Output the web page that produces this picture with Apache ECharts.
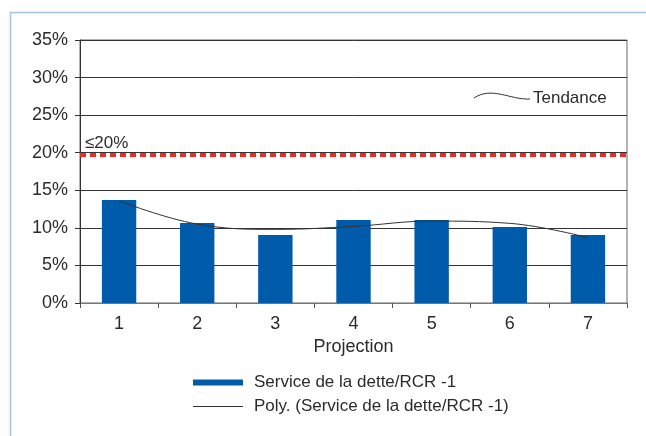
<!DOCTYPE html>
<html>
<head>
<meta charset="utf-8">
<script src="https://cdn.jsdelivr.net/npm/echarts@6/dist/echarts.min.js"></script>
<style>
  html, body { margin: 0; padding: 0; background: #fff; }
  #chart { width: 646px; height: 436px; }
</style>
</head>
<body>
<div id="chart"></div>
<script>
// Projection years and the debt-service ratio for each
const categories = ['1', '2', '3', '4', '5', '6', '7'];
const serviceDette = [13.7, 10.65, 9.05, 11.05, 11.05, 10.1, 9.05];
// Polynomial trend of the same series
const tendance = [13.6, 10.5, 9.8, 10.2, 10.9, 10.6, 8.7];
// Ceiling (≤20%)
const plafond = 19.75;
const yTicks = [0, 5, 10, 15, 20, 25, 30, 35];

const serieBarres = 'Service de la dette/RCR -1';
const serieTendance = 'Poly. (Service de la dette/RCR -1)';
const font = 'Liberation Sans, Arial, Helvetica, sans-serif';
const txt = '#2b2b2b';

const chart = echarts.init(document.getElementById('chart'), null, { renderer: 'canvas' });

chart.setOption({
  animation: false,
  backgroundColor: '#fff',
  textStyle: { fontFamily: font },
  grid: {
    left: 80, top: 40, right: 19, bottom: 133,
    show: true, borderColor: '#666', borderWidth: 1
  },
  legend: [
    {
      data: [serieBarres],
      orient: 'vertical',
      left: 193, top: 374,
      padding: 0,
      icon: 'rect',
      itemWidth: 50, itemHeight: 6,
      textStyle: { fontFamily: font, fontSize: 17, color: txt, padding: [0, 0, 0, 6] }
    },
    {
      data: [serieTendance],
      orient: 'vertical',
      left: 193, top: 398,
      padding: 0,
      icon: 'rect',
      itemWidth: 50, itemHeight: 1,
      textStyle: { fontFamily: font, fontSize: 17, color: txt, padding: [0, 0, 0, 6] }
    }
  ],
  xAxis: {
    type: 'category',
    data: categories,
    boundaryGap: true,
    name: 'Projection',
    nameLocation: 'middle',
    nameGap: 34,
    nameTextStyle: { fontFamily: font, fontSize: 18, color: txt },
    axisLine: { lineStyle: { color: '#777', width: 1 } },
    axisTick: { show: true, length: 5, lineStyle: { color: '#555' }, alignWithLabel: false },
    axisLabel: { fontFamily: font, fontSize: 18, color: txt, margin: 12 }
  },
  yAxis: {
    type: 'value',
    min: 0, max: 35, interval: 5,
    axisLine: { show: true, lineStyle: { color: '#333', width: 1 } },
    axisTick: { show: true, length: 5, lineStyle: { color: '#333' } },
    splitLine: { show: true, lineStyle: { color: '#333', width: 1 } },
    axisLabel: {
      fontFamily: font, fontSize: 18, color: txt, margin: 12,
      formatter: v => yTicks.includes(v) ? v + '%' : ''
    }
  },
  series: [
    {
      name: serieBarres,
      type: 'bar',
      data: serviceDette,
      barWidth: '44%',
      itemStyle: { color: '#005bab' },
      markLine: {
        silent: true,
        symbol: ['none', 'none'],
        label: { show: false },
        lineStyle: { color: '#ee2a24', width: 4, type: [6, 4] },
        data: [{ yAxis: plafond }]
      }
    },
    {
      name: serieTendance,
      type: 'line',
      data: tendance,
      smooth: 0.4,
      symbol: 'none',
      lineStyle: { color: '#333', width: 1 },
      itemStyle: { color: '#333' },
      z: 5
    }
  ],
  graphic: [
    // outer frame (top and left edges)
    {
      type: 'polyline',
      shape: { points: [[10.5, 436], [10.5, 12.5], [646, 12.5]] },
      style: { stroke: '#a9c1e2', lineWidth: 1.5, fill: null },
      silent: true
    },
    {
      type: 'text',
      left: 85, top: 135,
      style: { text: '≤20%', fontFamily: font, fontSize: 17, fill: txt }
    },
    {
      type: 'bezierCurve',
      shape: { x1: 474, y1: 98, cpx1: 492, cpy1: 86, cpx2: 510, cpy2: 100, x2: 530, y2: 99 },
      style: { stroke: '#333', lineWidth: 1, fill: null },
      silent: true
    },
    {
      type: 'text',
      left: 533, top: 90,
      style: { text: 'Tendance', fontFamily: font, fontSize: 17, fill: txt }
    }
  ]
});
</script>
</body>
</html>
